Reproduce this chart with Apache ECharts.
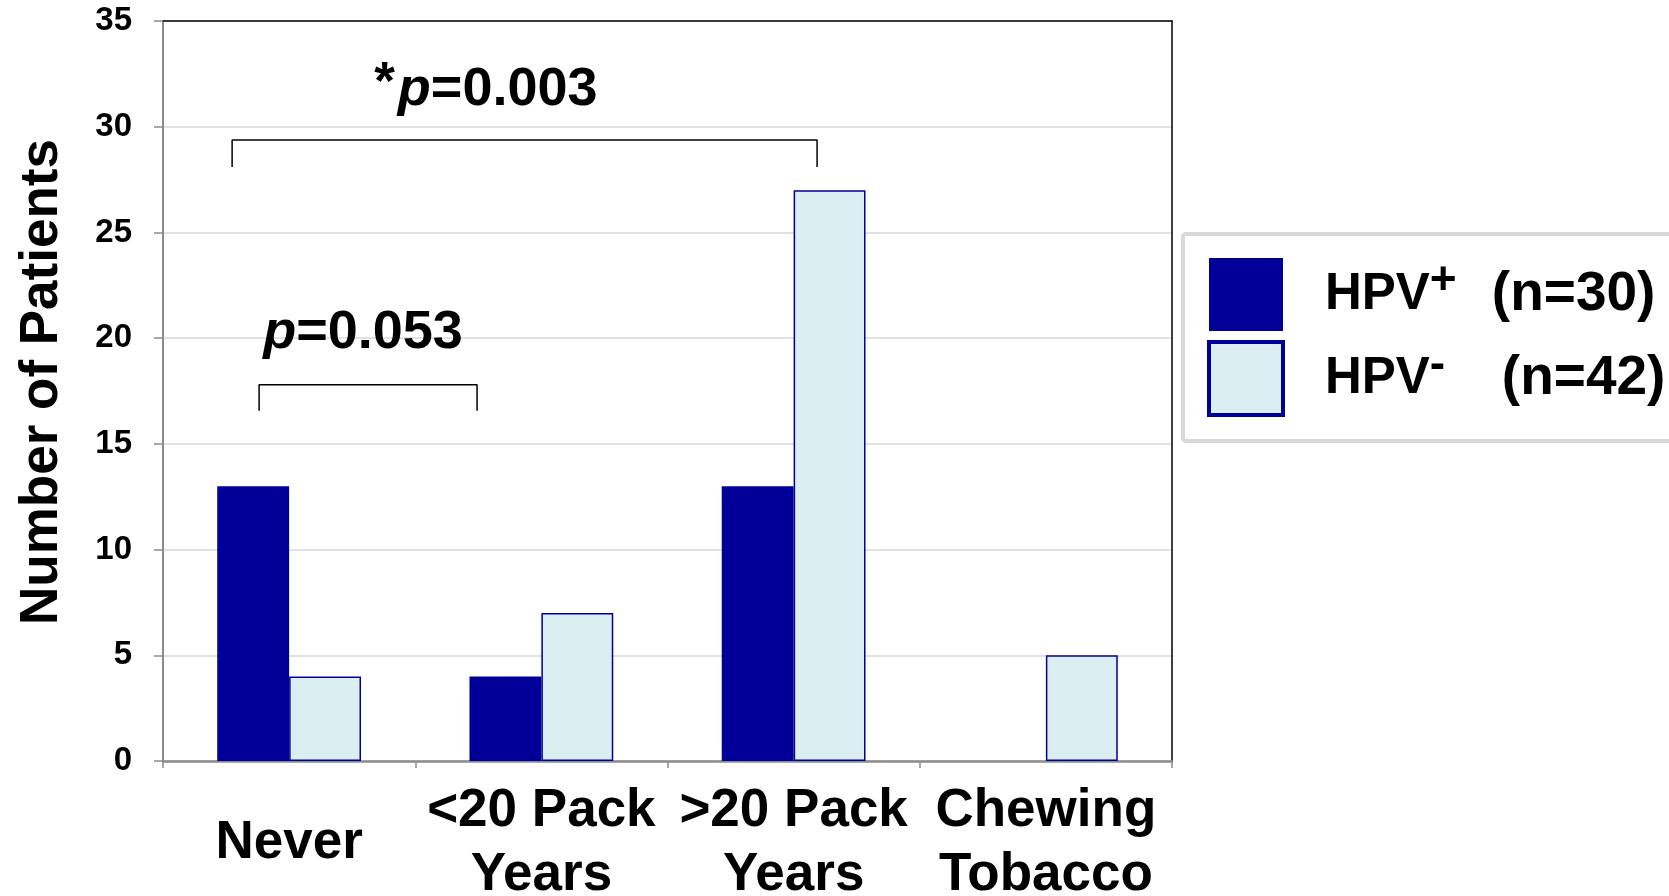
<!DOCTYPE html>
<html>
<head>
<meta charset="utf-8">
<script src="https://cdn.jsdelivr.net/npm/echarts@6/dist/echarts.min.js"></script>
<style>
  html, body { margin: 0; padding: 0; background: #fff; }
  #chart { width: 1669px; height: 896px; }
</style>
</head>
<body>
<div id="chart"></div>
<script>
// Smoking history by HPV status
const categories = ['Never', '<20 Pack\nYears', '>20 Pack\nYears', 'Chewing\nTobacco'];
const hpvPositive = [13, 4, 13, 0];
const hpvNegative = [4, 7, 27, 5];
const seriesNames = ['HPV+', 'HPV-'];
const groupSizes = [30, 42];
const yMin = 0, yMax = 35, yStep = 5;

// Significance brackets, in axis units (x: category index, y: patients)
const pLabels = ['0.003', '0.053'];
const pMarks = ['*', ''];
const bracketX = [[-0.226, 2.093], [-0.119, 0.745]];
const bracketY = [[29.37, 28.1], [17.79, 16.56]];
const pTextPos = [[0.78, 31.72], [0.293, 20.25]];

const FONT = "'Liberation Sans', Arial, Helvetica, sans-serif";
const NAVY = '#000099';
const PALE = '#dbeef1';

const chart = echarts.init(document.getElementById('chart'), null, { renderer: 'canvas' });

const bracketSeries = bracketX.map((xs, i) => ({
  type: 'line',
  xAxisIndex: 1,
  yAxisIndex: 0,
  silent: true,
  symbol: 'none',
  lineStyle: { color: '#000', width: 1.5 },
  data: [
    [xs[0], bracketY[i][1]],
    [xs[0], bracketY[i][0]],
    [xs[1], bracketY[i][0]],
    [xs[1], bracketY[i][1]]
  ],
  z: 5
}));

const pTextSeries = {
  type: 'scatter',
  xAxisIndex: 1,
  yAxisIndex: 0,
  silent: true,
  symbolSize: 0,
  itemStyle: { opacity: 1 },
  data: pTextPos.map((pos, i) => ({ value: pos, idx: i })),
  label: {
    show: true,
    position: 'inside',
    align: 'center',
    verticalAlign: 'middle',
    color: '#000',
    opacity: 1,
    textBorderWidth: 0,
    formatter: (params) => {
      const i = params.dataIndex;
      const mark = pMarks[i] ? '{ast|' + pMarks[i] + '}' : '';
      return mark + '{p|p}{v|=' + pLabels[i] + '}';
    },
    rich: {
      ast: { fontFamily: FONT, fontWeight: 'bold', fontSize: 53, color: '#000', lineHeight: 42, verticalAlign: 'top', textBorderWidth: 0, padding: [0, 3, 0, 0] },
      p: { fontFamily: FONT, fontWeight: 'bold', fontStyle: 'italic', fontSize: 54, color: '#000', lineHeight: 64, textBorderWidth: 0 },
      v: { fontFamily: FONT, fontWeight: 'bold', fontSize: 54, color: '#000', lineHeight: 64, textBorderWidth: 0 }
    }
  },
  z: 6
};

const option = {
  animation: false,
  backgroundColor: '#fff',
  grid: { left: 163, top: 21, right: 497, bottom: 135, show: false, containLabel: false, outerBoundsMode: 'none' },
  legend: {
    orient: 'vertical',
    left: 1183,
    top: 234,
    padding: [24, 40, 24, 24],
    itemGap: 9,
    itemWidth: 74,
    itemHeight: 73,
    backgroundColor: '#fff',
    borderColor: '#d9d9d9',
    borderWidth: 4,
    borderRadius: 3,
    selectedMode: false,
    data: [
      { name: seriesNames[0], icon: 'rect' },
      { name: seriesNames[1], icon: 'rect', itemStyle: { borderWidth: 4, borderColor: NAVY } }
    ],
    formatter: (name) => {
      const i = seriesNames.indexOf(name);
      const sign = name.slice(-1);
      const supStyle = sign === '+' ? 'sp' : 'sm';
      return '{h|' + name.slice(0, -1) + '}{' + supStyle + '|' + sign + '}{n|(n=' + groupSizes[i] + ')}';
    },
    textStyle: {
      rich: {
        h: { fontFamily: FONT, fontWeight: 'bold', fontSize: 51, color: '#000', lineHeight: 72, padding: [0, 0, 0, 37] },
        sp: { fontFamily: FONT, fontWeight: 'bold', fontSize: 46, color: '#000', lineHeight: 36, verticalAlign: 'top', width: 62 },
        sm: { fontFamily: FONT, fontWeight: 'bold', fontSize: 46, color: '#000', lineHeight: 24, verticalAlign: 'top', width: 72 },
        n: { fontFamily: FONT, fontWeight: 'bold', fontSize: 55, color: '#000', lineHeight: 72 }
      }
    }
  },
  xAxis: [
    {
      type: 'category',
      data: categories,
      position: 'bottom',
      axisLine: { show: true, lineStyle: { color: '#8c8c8c', width: 2.5 } },
      axisTick: { show: true, length: 7, lineStyle: { color: '#8c8c8c', width: 1.5 } },
      axisLabel: {
        interval: 0,
        margin: 82,
        verticalAlign: 'middle',
        fontFamily: FONT,
        fontWeight: 'bold',
        fontSize: 53,
        lineHeight: 64,
        color: '#000'
      },
      splitLine: { show: false }
    },
    {
      type: 'value',
      min: -0.5,
      max: 3.5,
      position: 'top',
      axisLine: { show: true, onZero: false, lineStyle: { color: '#000', width: 1.5 } },
      axisTick: { show: false },
      axisLabel: { show: false },
      splitLine: { show: false }
    }
  ],
  yAxis: [
    {
      type: 'value',
      min: yMin,
      max: yMax,
      interval: yStep,
      name: 'Number of Patients',
      nameLocation: 'middle',
      nameRotate: 90,
      nameGap: 94,
      nameTextStyle: {
        fontFamily: FONT,
        fontWeight: 'bold',
        fontSize: 53,
        color: '#000',
        padding: [0, 0, 0, 18]
      },
      axisLine: { show: true, onZero: false, lineStyle: { color: '#8c8c8c', width: 2 } },
      axisTick: { show: true, length: 9, lineStyle: { color: '#8c8c8c', width: 1.5 } },
      axisLabel: { margin: 31, fontFamily: FONT, fontWeight: 'bold', fontSize: 33, color: '#000' },
      splitLine: { show: true, lineStyle: { color: '#d9d9d9', width: 1.5 } }
    },
    {
      type: 'value',
      min: yMin,
      max: yMax,
      interval: yStep,
      position: 'right',
      axisLine: { show: true, onZero: false, lineStyle: { color: '#000', width: 1.5 } },
      axisTick: { show: false },
      axisLabel: { show: false },
      splitLine: { show: false }
    }
  ],
  series: [
    {
      name: seriesNames[0],
      type: 'bar',
      data: hpvPositive,
      barGap: '0%',
      barCategoryGap: '43%',
      itemStyle: { color: NAVY, borderColor: NAVY, borderWidth: 0 },
      z: 3
    },
    {
      name: seriesNames[1],
      type: 'bar',
      data: hpvNegative,
      barGap: '0%',
      barCategoryGap: '43%',
      itemStyle: { color: PALE, borderColor: NAVY, borderWidth: 1.5 },
      z: 3
    },
    ...bracketSeries,
    pTextSeries
  ]
};

chart.setOption(option);
</script>
</body>
</html>
